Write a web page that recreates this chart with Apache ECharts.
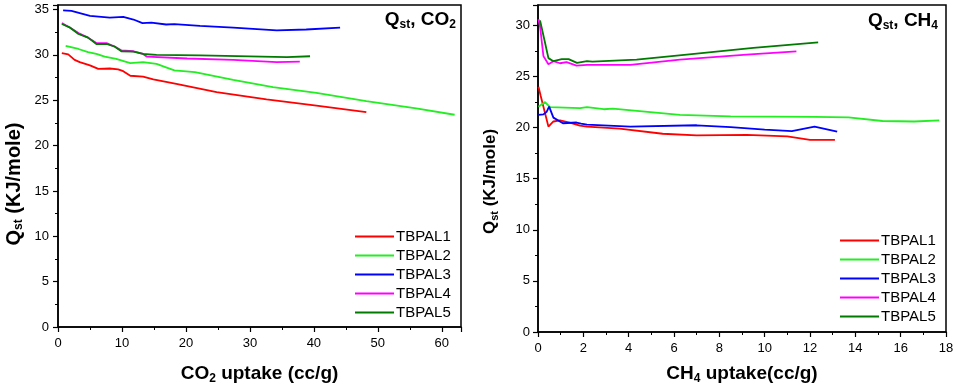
<!DOCTYPE html>
<html>
<head>
<meta charset="utf-8">
<script src="https://cdn.jsdelivr.net/npm/echarts@6/dist/echarts.min.js"></script>
<style>
  html, body { margin: 0; padding: 0; background: #fff; }
  #chart { width: 957px; height: 390px; }
</style>
</head>
<body>
<div id="chart"></div>
<script>
// series names (legend)
const names = ['TBPAL1', 'TBPAL2', 'TBPAL3', 'TBPAL4', 'TBPAL5']
const colors = ['#ff0000', '#22ee22', '#0000ff', '#ff00ff', '#007a00']

// CO2 panel: [uptake cc/g, Qst kJ/mole]
const co2_TBPAL1 = [[0.6, 30.2], [1.6, 30.05], [2.6, 29.45], [3.4, 29.2], [5, 28.85], [6.3, 28.45], [8.1, 28.5], [9.4, 28.4], [10.2, 28.2], [11.3, 27.7], [13.3, 27.6], [14.9, 27.3], [18.5, 26.8], [24.8, 25.9], [32.6, 25.1], [40.4, 24.4], [48.2, 23.7]]
const co2_TBPAL2 = [[1.2, 31.0], [3.2, 30.65], [4.7, 30.3], [6.0, 30.1], [7.3, 29.8], [9.1, 29.55], [11.3, 29.1], [13.3, 29.2], [15.4, 29.0], [17, 28.6], [18.2, 28.3], [21.4, 28.1], [27.4, 27.25], [33.6, 26.45], [40.4, 25.8], [48.2, 24.9], [56, 24.1], [62, 23.4]]
const co2_TBPAL3 = [[0.8, 34.9], [2.1, 34.85], [5, 34.3], [8.1, 34.1], [10.2, 34.2], [11.8, 33.9], [13.2, 33.5], [14.6, 33.55], [16.9, 33.35], [18.2, 33.4], [22.2, 33.2], [27.4, 33.0], [34.2, 32.7], [38.8, 32.8], [44.1, 33.0]]
const co2_TBPAL4 = [[0.6, 33.5], [1.9, 33.0], [3.2, 32.4], [4.7, 31.9], [6.0, 31.3], [7.6, 31.3], [8.9, 30.9], [9.9, 30.5], [11.8, 30.4], [13.3, 30.1], [13.9, 29.8], [20.2, 29.6], [27.4, 29.45], [34.2, 29.2], [37.8, 29.25]]
const co2_TBPAL5 = [[0.6, 33.4], [1.9, 33.0], [3.2, 32.3], [4.7, 31.9], [6.0, 31.2], [7.6, 31.2], [8.9, 30.9], [9.9, 30.4], [11.8, 30.35], [13.3, 30.1], [15.4, 30.0], [22.2, 29.95], [35.8, 29.75], [39.4, 29.85]]

// CH4 panel
const ch4_TBPAL1 = [[0.02, 24.0], [0.12, 23.1], [0.46, 20.1], [0.68, 20.6], [0.97, 20.7], [1.4, 20.5], [1.85, 20.2], [2.16, 20.1], [3.6, 19.9], [5.5, 19.4], [7.0, 19.25], [9.2, 19.3], [11.0, 19.15], [12.0, 18.8], [13.1, 18.8]]
const ch4_TBPAL2 = [[0.02, 22.05], [0.31, 22.5], [0.53, 22.0], [1.85, 21.9], [2.16, 22.0], [2.9, 21.8], [3.3, 21.85], [6.26, 21.24], [8.5, 21.1], [12.2, 21.05], [13.7, 21.0], [15.2, 20.65], [16.6, 20.6], [17.7, 20.7]]
const ch4_TBPAL3 = [[0.02, 21.24], [0.24, 21.3], [0.38, 21.55], [0.49, 22.05], [0.68, 20.98], [1.1, 20.43], [1.7, 20.5], [1.9, 20.4], [2.16, 20.3], [4.07, 20.1], [7.0, 20.23], [8.5, 20.05], [10.0, 19.8], [11.2, 19.65], [12.2, 20.1], [13.2, 19.6]]
const ch4_TBPAL4 = [[0.02, 30.6], [0.09, 29.9], [0.24, 27.0], [0.46, 26.2], [0.68, 26.5], [0.97, 26.3], [1.26, 26.4], [1.7, 26.07], [2.16, 26.15], [4.07, 26.15], [6.26, 26.65], [9.2, 27.14], [11.4, 27.46]]
const ch4_TBPAL5 = [[0.09, 30.5], [0.31, 28.3], [0.46, 26.8], [0.68, 26.5], [1.05, 26.7], [1.35, 26.7], [1.72, 26.33], [2.16, 26.5], [2.4, 26.45], [4.35, 26.65], [6.56, 27.14], [9.5, 27.8], [12.36, 28.34]]

const co2Data = [co2_TBPAL1, co2_TBPAL2, co2_TBPAL3, co2_TBPAL4, co2_TBPAL5]
const ch4Data = [ch4_TBPAL1, ch4_TBPAL2, ch4_TBPAL3, ch4_TBPAL4, ch4_TBPAL5]

const font = 'Liberation Sans, Arial, sans-serif'

// bold text with subscripts, sized per use
function subRich(size) {
  return {
    b: { fontFamily: font, fontWeight: 'bold', fontSize: size, color: '#000' },
    s: { fontFamily: font, fontWeight: 'bold', fontSize: Math.round(size * 0.62), color: '#000',
      verticalAlign: 'bottom', padding: [Math.round(size * 0.5), 0, 0, 0] }
  }
}

function valueAxis(opts) {
  return Object.assign({
    type: 'value',
    splitLine: { show: false },
    axisLine: { show: true, onZero: false, lineStyle: { color: '#000', width: 1.5 } },
    axisTick: { show: true, length: 5, lineStyle: { color: '#000', width: 1.2 } },
    minorTick: { show: true, splitNumber: 2, length: 3, lineStyle: { color: '#000', width: 1 } },
    nameLocation: 'middle'
  }, opts)
}

const chart = echarts.init(document.getElementById('chart'))

const series = []
names.forEach((n, i) => {
  series.push({ name: n, type: 'line', xAxisIndex: 0, yAxisIndex: 0, data: co2Data[i], showSymbol: false, symbol: 'none',
    lineStyle: { color: colors[i], width: 1.8 }, itemStyle: { color: colors[i] } })
})
names.forEach((n, i) => {
  series.push({ name: n, type: 'line', xAxisIndex: 1, yAxisIndex: 1, data: ch4Data[i], showSymbol: false, symbol: 'none',
    lineStyle: { color: colors[i], width: 1.8 }, itemStyle: { color: colors[i] } })
})

const legendBase = {
  orient: 'vertical',
  data: names,
  icon: 'rect',
  itemWidth: 39,
  itemHeight: 2,
  itemGap: 4,
  selectedMode: false,
  textStyle: { color: '#000', fontSize: 15, fontFamily: font, padding: [0, 0, 0, -3] }
}

chart.setOption({
  animation: false,
  backgroundColor: '#fff',
  grid: [
    { left: 58, right: 496, top: 5, bottom: 62, show: true, borderColor: '#000', borderWidth: 1.5 },
    { left: 538, right: 11, top: 5, bottom: 56, show: true, borderColor: '#000', borderWidth: 1.5 }
  ],
  xAxis: [
    valueAxis({ gridIndex: 0, min: 0, max: 63, interval: 10,
      axisLabel: { color: '#000', fontSize: 13, fontFamily: font, margin: 10, showMaxLabel: false },
      name: '{b|CO}{s|2}{b| uptake (cc/g)}', nameGap: 36, nameTextStyle: { rich: subRich(19) } }),
    valueAxis({ gridIndex: 1, min: 0, max: 18, interval: 2,
      axisLabel: { color: '#000', fontSize: 13, fontFamily: font, margin: 10 },
      name: '{b|CH}{s|4}{b| uptake(cc/g)}', nameGap: 31, nameTextStyle: { rich: subRich(19) } })
  ],
  yAxis: [
    valueAxis({ gridIndex: 0, min: 0, max: 35.5, interval: 5,
      axisLabel: { color: '#000', fontSize: 13, fontFamily: font, margin: 9, showMaxLabel: false },
      name: '{b|Q}{s|st}{b| (KJ/mole)}', nameGap: 33,
      nameTextStyle: { rich: subRich(20), padding: [0, 36, 0, 0] } }),
    valueAxis({ gridIndex: 1, min: 0, max: 32, interval: 5,
      axisLabel: { color: '#000', fontSize: 13, fontFamily: font, margin: 8, showMaxLabel: false },
      name: '{b|Q}{s|st}{b| (KJ/mole)}', nameGap: 38,
      nameTextStyle: { rich: subRich(17), padding: [0, 26, 0, 0] } })
  ],
  legend: [
    Object.assign({ left: 350, top: 224 }, legendBase),
    Object.assign({ left: 835, top: 228 }, legendBase)
  ],
  graphic: [
    { type: 'text', right: 957 - 456, top: 10,
      style: { text: '{b|Q}{s|st}{b|, CO}{s|2}', rich: subRich(19) } },
    { type: 'text', right: 957 - 938, top: 11,
      style: { text: '{b|Q}{s|st}{b|, CH}{s|4}', rich: subRich(19) } }
  ],
  series: series
})
</script>
</body>
</html>
